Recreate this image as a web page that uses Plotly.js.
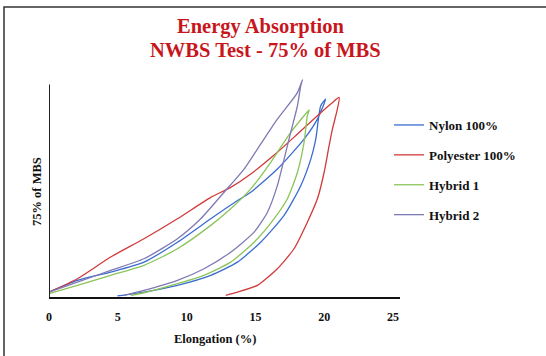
<!DOCTYPE html>
<html>
<head>
<meta charset="utf-8">
<script src="https://cdn.plot.ly/plotly-3.0.1.min.js"></script>
<style>html,body{margin:0;padding:0;background:#fff;}#chart{width:546px;height:356px;}</style>
</head>
<body>
<div id="chart"></div>
<script>
// Elongation (%) and load (% of 75% MBS): loading then unloading path
const seriesNames = ['Nylon 100%', 'Polyester 100%', 'Hybrid 1', 'Hybrid 2'];
const seriesColors = ['#3a6cd0', '#d03a3a', '#8cc45a', '#7e7ab4'];

const nylonX = [0, 2.06, 4.48, 6.9, 9.33, 11.75, 13.69, 14.66, 16.59, 18.53, 19.5, 20.1,
                19.74, 19.38, 19.02, 18.29, 17.08, 15.38, 13.69, 11.75, 9.33, 6.9, 4.97];
const nylonY = [2.3, 7.8, 11.7, 16.4, 25.8, 36.8, 45.4, 49.3, 60.2, 74.3, 83.7, 93.1,
                90, 74.3, 64.9, 52.4, 38.4, 25.8, 16.4, 10.2, 5.5, 2.3, 0.5];

const polyX = [0, 2.06, 4.48, 6.9, 9.33, 11.75, 13.2, 14.66, 16.59, 18.05, 19.5, 20.47, 21.08,
               20.95, 20.59, 20.35, 19.99, 19.5, 18.77, 17.8, 16.59, 15.14, 13.69, 12.84];
const polyY = [2.3, 8.6, 18.8, 27.4, 36.8, 46.9, 51.6, 57.9, 68.1, 76.7, 85.3, 90.8, 93.9,
               88.4, 79.0, 71.2, 58.7, 46.2, 35.2, 22.7, 13.3, 5.5, 2.3, 0.8];

const hyb1X = [0, 2.06, 4.48, 6.9, 9.33, 11.75, 13.2, 14.66, 16.11, 17.56, 18.53, 18.9,
               18.77, 18.53, 18.05, 17.32, 16.35, 14.9, 13.2, 11.26, 9.33, 6.9, 5.94];
const hyb1Y = [1.6, 5.5, 10.2, 14.9, 22.7, 33.7, 41.5, 50.9, 63.4, 77.5, 85.3, 88.1,
               85.3, 72.8, 58.7, 46.2, 36.8, 25.8, 16.4, 10.2, 6.3, 2.0, 0.8];

const hyb2X = [0, 2.06, 4.48, 6.9, 9.33, 11.02, 12.72, 14.17, 15.14, 16.59, 18.05, 18.41,
               18.29, 18.05, 17.56, 17.08, 16.59, 15.87, 14.9, 13.2, 11.26, 9.33, 6.9, 5.45];
const hyb2Y = [2.3, 7.0, 12.5, 18.0, 27.4, 36.8, 49.3, 60.2, 69.6, 83.7, 96.2, 102.2,
               99.4, 90, 77.5, 64.9, 52.4, 39.9, 30.5, 21.1, 13.3, 7.8, 3.1, 0.8];

const xTicks = [0, 5, 10, 15, 20, 25];
const xTickLabels = ['0', '5', '10', '15', '20', '25'];
const titleLines = ['Energy Absorption', 'NWBS Test - 75% of MBS'];
const xTitle = 'Elongation (%)';
const yTitle = '75% of MBS';
const yAxisTop = 100;

const xs = [nylonX, polyX, hyb1X, hyb2X];
const ys = [nylonY, polyY, hyb1Y, hyb2Y];

const serif = 'Liberation Serif, Times New Roman, serif';
const W = 546 - 49 - 146, H = 356 - 76 - 59;
const px2paperX = p => (p - 49) / W;
const px2paperY = p => (356 - 59 - p) / H;

const traces = seriesNames.map((n, i) => ({
  type: 'scatter', mode: 'lines', name: n, x: xs[i], y: ys[i],
  legendgroup: 'g' + i,
  line: {color: seriesColors[i], width: 1.3, shape: 'spline', smoothing: 0.6}
}));

const titleFont = {family: serif, size: 20.5, color: '#c8161d', weight: 'bold'};
const axFont = {family: serif, size: 12.5, color: '#111', weight: 'bold'};

const layout = {
  width: 546, height: 356,
  paper_bgcolor: '#ffffff', plot_bgcolor: '#ffffff',
  margin: {l: 49, r: 146, t: 76, b: 59, autoexpand: false},
  xaxis: {
    range: [0, 25.5], tickvals: xTicks, ticktext: xTickLabels,
    showgrid: false, zeroline: false, showline: true, linecolor: '#111', linewidth: 2,
    ticks: '', ticklabelstandoff: 8,
    tickfont: {family: serif, size: 12, color: '#111', weight: 'bold'},
    automargin: false, fixedrange: true
  },
  yaxis: {
    range: [0, 104], showgrid: false, zeroline: false, showline: false,
    showticklabels: false, ticks: '',
    automargin: false, fixedrange: true
  },
  legend: {
    x: px2paperX(389), xanchor: 'left', y: px2paperY(110), yanchor: 'top',
    font: {family: serif, size: 13, color: '#111', weight: 'bold'},
    tracegroupgap: 10, traceorder: 'grouped', bgcolor: 'rgba(0,0,0,0)'
  },
  annotations: [
    {text: titleLines[0], xref: 'paper', yref: 'paper', x: px2paperX(260), y: px2paperY(27),
     xanchor: 'center', yanchor: 'middle', showarrow: false, font: titleFont},
    {text: titleLines[1], xref: 'paper', yref: 'paper', x: px2paperX(265), y: px2paperY(50),
     xanchor: 'center', yanchor: 'middle', showarrow: false, font: titleFont},
    {text: xTitle, xref: 'paper', yref: 'paper', x: px2paperX(215), y: px2paperY(339),
     xanchor: 'center', yanchor: 'middle', showarrow: false, font: axFont},
    {text: yTitle, xref: 'paper', yref: 'paper', x: px2paperX(37), y: px2paperY(192),
     xanchor: 'center', yanchor: 'middle', showarrow: false, textangle: -90, font: axFont}
  ],
  shapes: [
    {type: 'line', xref: 'x', yref: 'y', x0: 0, x1: 0, y0: 0, y1: yAxisTop,
     line: {color: '#222', width: 2}},
    {type: 'rect', xref: 'paper', yref: 'paper', x0: px2paperX(4), x1: px2paperX(560),
     y0: px2paperY(370), y1: px2paperY(7),
     line: {color: '#333', width: 1.5}, fillcolor: 'rgba(0,0,0,0)', layer: 'below'}
  ],
  showlegend: true
};

Plotly.newPlot('chart', traces, layout, {displayModeBar: false, staticPlot: true});
</script>
</body>
</html>
